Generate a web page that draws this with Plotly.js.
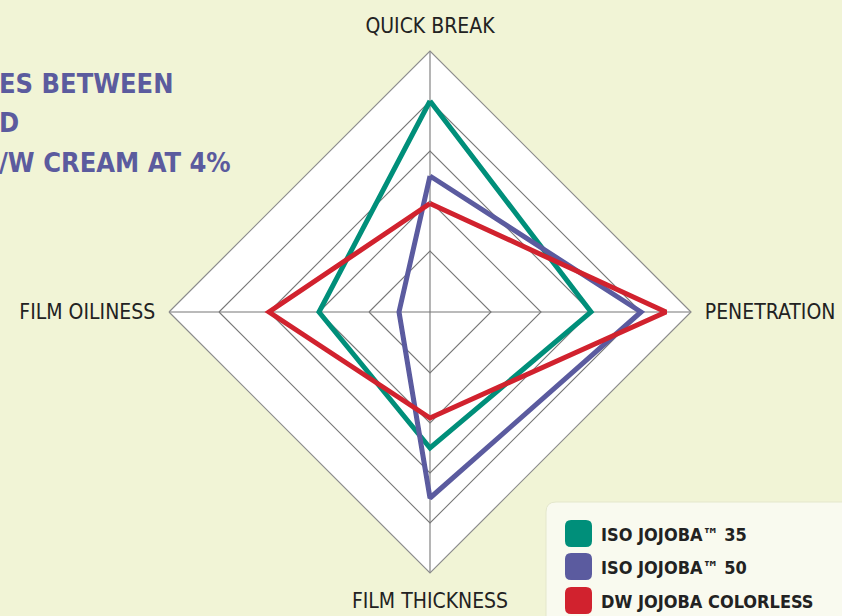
<!DOCTYPE html>
<html><head><meta charset="utf-8">
<script src="https://cdn.plot.ly/plotly-3.0.1.min.js"></script>
<style>html,body{margin:0;padding:0;background:#f1f4d6;} #chart{width:842px;height:616px;}</style>
</head><body><div id="chart"></div>
<script>
const categories = ['QUICK BREAK', 'PENETRATION', 'FILM THICKNESS', 'FILM OILINESS'];
const seriesNames = ['ISO JOJOBA™ 35', 'ISO JOJOBA™ 50', 'DW JOJOBA COLORLESS'];
const iso35 = [4.0, 3.0, 2.5, 2.0];
const iso50 = [2.5, 4.0, 3.5, 0.4];
const dwColorless = [1.95, 4.5, 1.9, 3.0];
const seriesColors = ['#008f7a', '#5b5b9f', '#d1222e'];
const ringTicks = [1, 2, 3, 4, 5];
const titleLines = ['ES BETWEEN', 'D', '/W CREAM AT 4%'];

const W = 842, H = 616;
const px = x => x / W;
const py = y => 1 - y / H;
const narrow = '"Liberation Sans Narrow", "DejaVu Sans Condensed", "Arial Narrow", sans-serif';

const allSeries = [iso35, iso50, dwColorless];
const traces = allSeries.map((vals, i) => ({
  type: 'scatterpolar',
  r: vals.concat([vals[0]]),
  theta: categories.concat([categories[0]]),
  mode: 'lines',
  name: seriesNames[i],
  line: {color: seriesColors[i], width: 5},
  showlegend: false,
  hoverinfo: 'skip'
}));

function roundRect(x0, y0, x1, y1, r) {
  const P = (x, y) => px(x) + ',' + py(y);
  return 'M' + P(x0 + r, y0) + ' L' + P(x1 - r, y0) + ' Q' + P(x1, y0) + ' ' + P(x1, y0 + r) +
    ' L' + P(x1, y1 - r) + ' Q' + P(x1, y1) + ' ' + P(x1 - r, y1) +
    ' L' + P(x0 + r, y1) + ' Q' + P(x0, y1) + ' ' + P(x0, y1 - r) +
    ' L' + P(x0, y0 + r) + ' Q' + P(x0, y0) + ' ' + P(x0 + r, y0) + ' Z';
}

const shapes = [{
  type: 'path', xref: 'paper', yref: 'paper',
  path: roundRect(546, 502, 860, 640, 10),
  fillcolor: '#f9faef', line: {color: '#e4e7cc', width: 1}, layer: 'below'
}];
const annotations = [];
const legendTop = [520, 553, 587];
seriesNames.forEach((n, i) => {
  const y0 = legendTop[i];
  shapes.push({
    type: 'path', xref: 'paper', yref: 'paper',
    path: roundRect(565, y0, 592, y0 + 27, 6),
    fillcolor: seriesColors[i], line: {width: 0}
  });
  annotations.push({
    xref: 'paper', yref: 'paper', x: px(599), y: py(y0 + 14),
    xanchor: 'left', yanchor: 'middle', showarrow: false,
    text: '<b>' + n + '</b>',
    font: {family: narrow, size: 18, color: '#222222'}
  });
});
const titleBase = [95, 134, 174];
titleLines.forEach((t, i) => {
  annotations.push({
    xref: 'paper', yref: 'paper', x: px(-3), y: py(titleBase[i] + 6),
    xanchor: 'left', yanchor: 'bottom', showarrow: false,
    text: '<b>' + t + '</b>',
    font: {family: narrow, size: 27, color: '#5b5b9e'}
  });
});

const layout = {
  width: W, height: H,
  margin: {l: 0, r: 0, t: 0, b: 0},
  paper_bgcolor: '#f1f4d6',
  showlegend: false,
  shapes: shapes,
  annotations: annotations,
  polar: {
    domain: {x: [px(169), px(691)], y: [py(573), py(51)]},
    bgcolor: '#ffffff',
    gridshape: 'linear',
    radialaxis: {
      range: [-0.22, 5], tickvals: ringTicks, showticklabels: false, ticks: '',
      showline: false, gridcolor: '#777777', gridwidth: 1.1
    },
    angularaxis: {
      rotation: 90, direction: 'clockwise',
      showline: true, linecolor: '#8c8c8c', linewidth: 1.2,
      gridcolor: '#777777', gridwidth: 1.1,
      ticks: 'outside', ticklen: 9, tickcolor: 'rgba(0,0,0,0)',
      tickfont: {family: narrow, size: 21, color: '#222222'}
    }
  }
};

Plotly.newPlot('chart', traces, layout, {displayModeBar: false, staticPlot: true});
</script>
</body></html>
